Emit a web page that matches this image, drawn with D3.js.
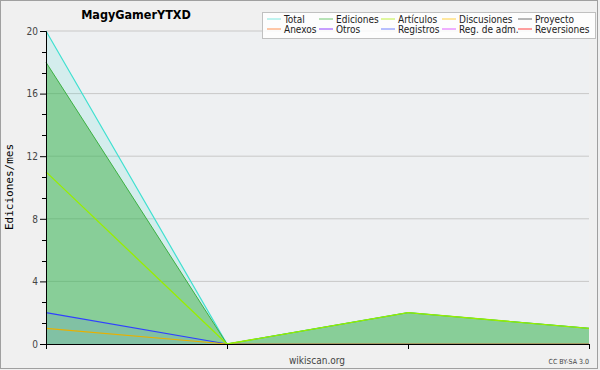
<!DOCTYPE html>
<html>
<head>
<meta charset="utf-8">
<script src="https://cdn.jsdelivr.net/npm/d3@7"></script>
<style>
  body { margin: 0; background: #f0f0f0; }
  svg { display: block; font-family: "DejaVu Sans", sans-serif; }
</style>
</head>
<body>
<svg id="chart" width="600" height="370"></svg>
<script>
// data
const months = [0, 1, 2, 3];
const total = [20, 0, 2, 1];
const ediciones = [18, 0, 2, 1];
const articulos = [11, 0, 2, 1];
const discusiones = [1, 0, 0, 0];
const registros = [2, 0, 0, 0];
const yTicks = [0, 4, 8, 12, 16, 20];
const legendNames = ["Total", "Ediciones", "Artículos", "Discusiones", "Proyecto",
  "Anexos", "Otros", "Registros", "Reg. de adm.", "Reversiones"];
const legendColors = ["#80e8e0", "#70c870", "#c0f040", "#ffd040", "#707070",
  "#ff9050", "#9040ff", "#7080ff", "#e060ff", "#ff4040"];

const svg = d3.select("#chart");
const W = 600, H = 370;
const m = { left: 46, right: 11, top: 31, bottom: 26 };

// background + frame
svg.append("rect").attr("x", 0.5).attr("y", 0.5).attr("width", W - 3).attr("height", H - 2)
  .attr("fill", "#f0f0f0").attr("stroke", "#a0a0a0");
svg.append("rect").attr("x", m.left).attr("y", m.top)
  .attr("width", W - m.left - m.right).attr("height", H - m.top - m.bottom)
  .attr("fill", "#eef0f2");

const x = d3.scaleLinear().domain([0, 3]).range([m.left, W - m.right]);
const y = d3.scaleLinear().domain([0, 20]).range([H - m.bottom, m.top]);

// grid
svg.append("g").selectAll("line").data(yTicks.filter(d => d > 0)).join("line")
  .attr("x1", m.left).attr("x2", W - m.right)
  .attr("y1", d => y(d)).attr("y2", d => y(d))
  .attr("stroke", "#c8c8c8").attr("stroke-width", 1);

const area = vals => d3.area().x((d, i) => x(months[i])).y0(y(0)).y1(d => y(d))(vals);
const line = vals => d3.line().x((d, i) => x(months[i])).y(d => y(d))(vals);

svg.append("path").attr("d", area(total)).attr("fill", "#40e0d0").attr("fill-opacity", 0.15);
svg.append("path").attr("d", area(ediciones)).attr("fill", "#3cb043").attr("fill-opacity", 0.5);
svg.append("path").attr("d", area(registros)).attr("fill", "#5060ff").attr("fill-opacity", 0.12);

svg.append("path").attr("d", line(total)).attr("fill", "none").attr("stroke", "#40e0d0").attr("stroke-width", 1.2);
svg.append("path").attr("d", line(ediciones)).attr("fill", "none").attr("stroke", "#3cb043").attr("stroke-width", 1);
svg.append("path").attr("d", line(registros)).attr("fill", "none").attr("stroke", "#3040ff").attr("stroke-width", 1.2);
svg.append("path").attr("d", line(discusiones)).attr("fill", "none").attr("stroke", "#e8b000").attr("stroke-width", 1.2);
svg.append("path").attr("d", line(articulos)).attr("fill", "none").attr("stroke", "#99ee00").attr("stroke-width", 1.3);

// axes
const yAxis = svg.append("g").attr("transform", `translate(${m.left},0)`)
  .call(d3.axisLeft(y).tickValues(yTicks).tickSize(6).tickPadding(2));
yAxis.select(".domain").attr("stroke", "#000");
yAxis.selectAll("text").attr("font-size", 10).attr("fill", "#444")
  .attr("font-family", "'DejaVu Sans Condensed', sans-serif");
// minor ticks
const minor = d3.range(0, 20, 4 / 3).filter(d => Math.abs(d % 4) > 0.01 && Math.abs(d % 4 - 4) > 0.01);
svg.append("g").selectAll("line").data(minor).join("line")
  .attr("x1", m.left - 4).attr("x2", m.left)
  .attr("y1", d => Math.round(y(d)) + 0.5).attr("y2", d => Math.round(y(d)) + 0.5)
  .attr("stroke", "#000");

const xAxis = svg.append("g").attr("transform", `translate(0,${y(0)})`)
  .call(d3.axisBottom(x).tickValues(months).tickSize(5).tickFormat(""));
xAxis.select(".domain").attr("stroke", "#000");

// texts
svg.append("text").attr("x", 136).attr("y", 19).attr("text-anchor", "middle")
  .attr("font-family", "'DejaVu Sans Condensed', sans-serif")
  .attr("font-size", 12.5).attr("font-weight", "bold").text("MagyGamerYTXD");
svg.append("text").attr("transform", "translate(13,187) rotate(-90)").attr("text-anchor", "middle")
  .attr("font-family", "'DejaVu Sans Mono', monospace").attr("font-size", 11).text("Ediciones/mes");
svg.append("text").attr("x", 317).attr("y", 364).attr("text-anchor", "middle")
  .attr("font-family", "'DejaVu Sans Condensed', sans-serif")
  .attr("font-size", 10).attr("fill", "#444").text("wikiscan.org");
svg.append("text").attr("x", 589).attr("y", 364).attr("text-anchor", "end")
  .attr("font-family", "'DejaVu Sans Condensed', sans-serif")
  .attr("font-size", 7).attr("fill", "#444").text("CC BY-SA 3.0");

// legend
const lg = svg.append("g");
lg.append("rect").attr("x", 262.5).attr("y", 12.5).attr("width", 333).attr("height", 26)
  .attr("fill", "#ffffff").attr("fill-opacity", 0.85).attr("stroke", "#c0c0c0");
const colX = [267, 319, 381, 442, 518];
const items = lg.selectAll("g").data(legendNames).join("g")
  .attr("transform", (d, i) => `translate(${colX[i % 5]},${i < 5 ? 19 : 29})`);
items.append("line").attr("x1", 0).attr("x2", 14).attr("stroke", (d, i) => legendColors[i]);
items.append("text").attr("x", 17).attr("y", 4).attr("font-size", 10).attr("fill", "#222")
  .attr("font-family", "'DejaVu Sans Condensed', sans-serif").text(d => d);
</script>
</body>
</html>
